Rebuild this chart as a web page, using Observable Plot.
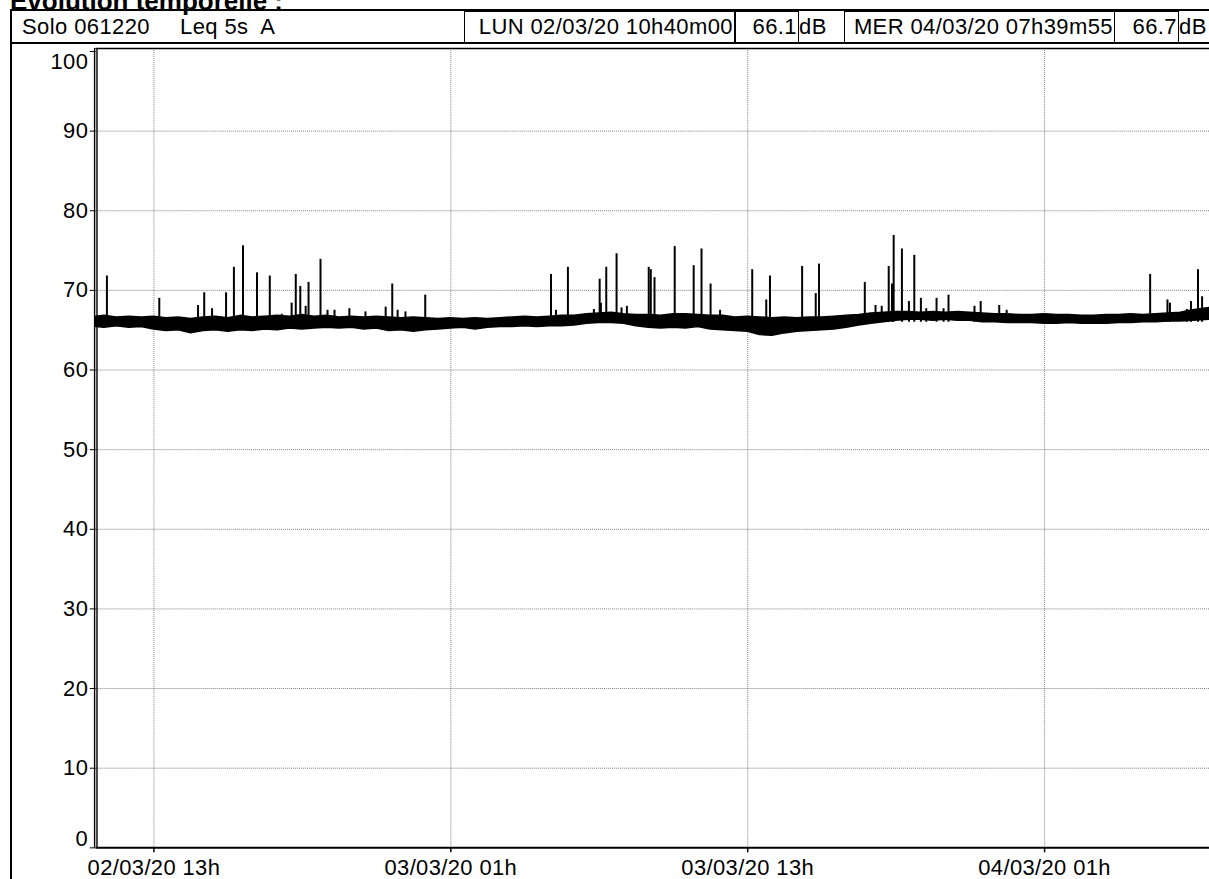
<!DOCTYPE html>
<html>
<head>
<meta charset="utf-8">
<script src="https://cdn.jsdelivr.net/npm/d3@7"></script>
<script src="https://cdn.jsdelivr.net/npm/@observablehq/plot@0.6"></script>
<style>
html,body{margin:0;padding:0;background:#fff;}
body{width:1209px;height:879px;overflow:hidden;position:relative;font-family:"Liberation Sans",Arial,sans-serif;color:#000;}
.abs{position:absolute;box-sizing:border-box;white-space:pre;}
#title{left:10px;top:-12px;font-weight:bold;font-size:26px;line-height:26px;}
#frameL{left:10px;top:9px;width:2px;height:900px;background:#000;}
#frameT{left:10px;top:9px;width:1300px;height:2px;background:#000;}
#frameB{left:10px;top:42px;width:1300px;height:2px;background:#000;}
.txt{top:11px;height:31px;font-size:22px;line-height:31px;letter-spacing:0.4px;}
.box{top:11px;height:32px;border:1.5px solid #000;font-size:22px;line-height:29px;letter-spacing:0.4px;text-align:right;padding-right:1px;}
#chart{left:0;top:44px;}
#chart svg text{letter-spacing:0.4px;}
</style>
</head>
<body>
<div id="title" class="abs"></div>
<div id="frameL" class="abs"></div>
<div id="frameT" class="abs"></div>
<div id="frameB" class="abs"></div>
<div id="hdr"></div>
<div id="chart" class="abs"></div>
<script>
// ---- header texts ----
const titleText = "Evolution temporelle :";
const sourceLabel = "Solo 061220";
const indexLabel = "Leq 5s  A";
const startLabel = "LUN 02/03/20 10h40m00";
const startValue = "66.1";
const endLabel = "MER 04/03/20 07h39m55";
const endValue = "66.7";
const unitLabel = "dB";

// ---- axes ----
const xStart = "2020-03-02T10:40:00";
const xEnd = "2020-03-04T07:39:55";
const xTicks = ["2020-03-02T13:00", "2020-03-03T01:00", "2020-03-03T13:00", "2020-03-04T01:00"];
const yTicks = [0, 10, 20, 30, 40, 50, 60, 70, 80, 90, 100];

// ---- background level band (Leq 5s, low / high envelope) ----
const bandTime = [
  "2020-03-02T10:40","2020-03-02T11:00","2020-03-02T11:30","2020-03-02T12:00","2020-03-02T12:30","2020-03-02T13:00","2020-03-02T13:30",
  "2020-03-02T14:00","2020-03-02T14:30","2020-03-02T15:00","2020-03-02T15:30","2020-03-02T16:00","2020-03-02T16:30","2020-03-02T17:00",
  "2020-03-02T17:30","2020-03-02T18:00","2020-03-02T18:30","2020-03-02T19:00","2020-03-02T19:30","2020-03-02T20:00","2020-03-02T20:30",
  "2020-03-02T21:00","2020-03-02T21:30","2020-03-02T22:00","2020-03-02T22:30","2020-03-02T23:00","2020-03-02T23:30",
  "2020-03-03T00:00","2020-03-03T00:30","2020-03-03T01:00","2020-03-03T01:30","2020-03-03T02:00","2020-03-03T02:30","2020-03-03T03:00","2020-03-03T03:30",
  "2020-03-03T04:00","2020-03-03T04:30","2020-03-03T05:00","2020-03-03T05:30","2020-03-03T06:00","2020-03-03T06:30","2020-03-03T07:00","2020-03-03T07:30",
  "2020-03-03T08:00","2020-03-03T08:30","2020-03-03T09:00","2020-03-03T09:30","2020-03-03T10:00","2020-03-03T10:30","2020-03-03T11:00","2020-03-03T11:30",
  "2020-03-03T12:00","2020-03-03T12:30","2020-03-03T13:00","2020-03-03T13:30","2020-03-03T14:00","2020-03-03T14:30","2020-03-03T15:00","2020-03-03T15:30",
  "2020-03-03T16:00","2020-03-03T16:30","2020-03-03T17:00","2020-03-03T17:30","2020-03-03T18:00","2020-03-03T18:30","2020-03-03T19:00","2020-03-03T19:30",
  "2020-03-03T20:00","2020-03-03T20:30","2020-03-03T21:00","2020-03-03T21:30","2020-03-03T22:00","2020-03-03T22:30","2020-03-03T23:00","2020-03-03T23:30",
  "2020-03-04T00:00","2020-03-04T00:30","2020-03-04T01:00","2020-03-04T01:30","2020-03-04T02:00","2020-03-04T02:30","2020-03-04T03:00","2020-03-04T03:30",
  "2020-03-04T04:00","2020-03-04T04:30","2020-03-04T05:00","2020-03-04T05:30","2020-03-04T06:00","2020-03-04T06:30","2020-03-04T07:00","2020-03-04T07:39:55"
];
const bandLow = [
  65.4,65.3,65.5,65.3,65.4,65.1,64.9, 65.0,64.6,64.9,65.0,64.8,65.0,64.9, 65.1,65.0,65.2,65.1,65.2,65.3,65.2, 65.3,65.1,65.2,64.9,65.0,64.8,
  65.0,65.1,65.2,65.3,65.1,65.3,65.4,65.4, 65.5,65.4,65.5,65.5,65.6,65.8,65.9,65.9, 65.8,65.5,65.3,65.2,65.3,65.2,65.4,65.1,
  65.0,64.9,64.8,64.4,64.3,64.6,64.8,64.9, 65.0,65.1,65.3,65.6,65.8,66.0,66.2,66.3, 66.3,66.2,66.3,66.2,66.2,66.0,66.0,65.9,
  65.9,65.9,65.8,65.8,65.9,65.8,65.8,65.8, 65.9,65.9,66.0,66.0,66.1,66.1,66.2,66.3
];
const bandHigh = [
  66.7,66.8,66.6,66.7,66.6,66.7,66.5, 66.6,66.4,66.6,66.7,66.5,66.8,66.6, 66.7,66.8,66.7,66.9,66.7,66.8,66.6, 66.7,66.6,66.7,66.6,66.5,66.6,
  66.5,66.4,66.5,66.4,66.5,66.4,66.5,66.6, 66.7,66.6,66.7,66.8,66.8,67.0,67.1,67.2, 67.0,66.9,66.9,66.8,67.0,67.0,66.9,66.8,
  66.8,66.6,66.7,66.6,66.5,66.6,66.5,66.6, 66.6,66.7,66.8,66.9,67.1,67.2,67.3,67.3, 67.2,67.3,67.2,67.3,67.2,67.1,67.0,67.0,
  66.9,66.9,67.0,66.9,66.9,66.8,66.8,66.9, 66.9,67.0,66.9,67.0,67.1,67.2,67.5,67.8
];

// ---- short events (peaks) ----
const spikeTime = [
  "2020-03-02T11:06","2020-03-02T13:13","2020-03-02T14:47","2020-03-02T15:02","2020-03-02T15:21","2020-03-02T15:55","2020-03-02T16:14",
  "2020-03-02T16:36","2020-03-02T17:10","2020-03-02T17:41","2020-03-02T18:10","2020-03-02T18:34","2020-03-02T18:44","2020-03-02T18:55",
  "2020-03-02T19:08","2020-03-02T19:15","2020-03-02T19:44","2020-03-02T20:01","2020-03-02T20:18","2020-03-02T20:54","2020-03-02T21:33",
  "2020-03-02T22:22","2020-03-02T22:38","2020-03-02T22:51","2020-03-02T23:10","2020-03-02T23:58",
  "2020-03-03T05:03","2020-03-03T05:15","2020-03-03T05:44","2020-03-03T06:47","2020-03-03T07:01","2020-03-03T07:04","2020-03-03T07:17",
  "2020-03-03T07:42","2020-03-03T07:54","2020-03-03T08:07","2020-03-03T09:00","2020-03-03T09:05","2020-03-03T09:14","2020-03-03T10:03",
  "2020-03-03T10:49","2020-03-03T11:08","2020-03-03T11:30","2020-03-03T11:53","2020-03-03T13:11","2020-03-03T13:45","2020-03-03T13:54",
  "2020-03-03T15:12","2020-03-03T15:45","2020-03-03T15:53","2020-03-03T17:44","2020-03-03T18:10","2020-03-03T18:25","2020-03-03T18:42",
  "2020-03-03T18:50","2020-03-03T18:54","2020-03-03T19:14","2020-03-03T19:31","2020-03-03T19:44","2020-03-03T20:00","2020-03-03T20:13",
  "2020-03-03T20:38","2020-03-03T20:55","2020-03-03T21:07","2020-03-03T22:10","2020-03-03T22:25","2020-03-03T23:10","2020-03-03T23:28",
  "2020-03-04T05:16","2020-03-04T05:58","2020-03-04T06:04","2020-03-04T06:45","2020-03-04T06:55","2020-03-04T07:12","2020-03-04T07:22"
];
const spikePeak = [
  71.8,69.0,68.1,69.7,67.7,69.7,72.9,
  75.6,72.2,71.8,67.0,68.4,72.0,70.5,
  68.0,71.0,73.9,67.5,67.5,67.7,67.3,
  67.9,70.8,67.5,67.3,69.4,
  72.0,67.5,72.9,67.6,71.4,68.4,72.9,
  74.6,67.8,68.0,72.9,72.6,71.6,75.5,
  73.1,75.2,70.8,67.5,72.6,68.8,71.8,
  73.0,69.6,73.3,71.0,68.1,68.0,73.0,
  70.8,76.9,75.2,68.6,74.4,69.0,67.7,
  69.0,67.7,69.4,68.0,68.6,68.1,67.5,
  72.0,68.8,68.4,67.6,68.6,72.6,69.2
];
const spikeBase = 66;

// ---- header (HTML) ----
const hdr = document.getElementById("hdr");
document.getElementById("title").textContent = titleText;
function addDiv(cls, left, width, text) {
  const d = document.createElement("div");
  d.className = "abs " + cls;
  d.style.left = left + "px";
  if (width != null) d.style.width = width + "px";
  d.textContent = text;
  hdr.appendChild(d);
}
addDiv("txt", 22, null, sourceLabel);
addDiv("txt", 180, null, indexLabel);
addDiv("box", 464, 271, startLabel);
addDiv("box", 734.5, 64.5, startValue);
addDiv("txt", 799, null, unitLabel);
addDiv("box", 844, 271, endLabel);
addDiv("box", 1114, 65, endValue);
addDiv("txt", 1179, null, unitLabel);

// ---- chart ----
const parse = s => new Date(s);
const band = bandTime.map((t, i) => ({t: parse(t), lo: bandLow[i], hi: bandHigh[i]}));
const spikes = spikeTime.map((t, i) => ({t: parse(t), peak: spikePeak[i]}));
const xTickDates = xTicks.map(parse);
const x0 = parse(xStart), x1 = parse(xEnd);
const yGrid = yTicks.filter(v => v > 0 && v < 100);
const fmt = d3.timeFormat("%d/%m/%y %Hh");
const gridStyle = {stroke: "#808080", strokeWidth: 1, strokeDasharray: "1,1"};

const chart = Plot.plot({
  width: 1213,
  height: 835,
  marginLeft: 96,
  marginRight: 0,
  marginTop: 4,
  marginBottom: 29,
  insetTop: 3,
  style: {fontFamily: "'Liberation Sans', Arial, sans-serif", fontSize: "22px", color: "#000", background: "transparent"},
  x: {type: "time", domain: [x0, x1], label: null},
  y: {domain: [0, 100], label: null},
  marks: [
    Plot.ruleY(yGrid, gridStyle),
    Plot.ruleX(xTickDates, gridStyle),
    Plot.areaY(band, {x: "t", y1: "lo", y2: "hi", fill: "#000", stroke: "#000", strokeWidth: 1.5}),
    Plot.ruleX(spikes, {x: "t", y1: spikeBase, y2: "peak", stroke: "#000", strokeWidth: 2}),
    Plot.frame({anchor: "top", stroke: "#000", strokeWidth: 1.5}),
    Plot.ruleY([0], {stroke: "#000", strokeWidth: 2}),
    Plot.ruleX([x0], {stroke: "#000", strokeWidth: 1.4, dx: -1.6}),
    Plot.ruleX([x0], {stroke: "#000", strokeWidth: 1.4, dx: 0.8}),
    Plot.axisX({ticks: xTickDates, tickSize: 5, tickPadding: 7, tickFormat: fmt, fontSize: 22, stroke: "#000", strokeWidth: 1.5, label: null}),
    Plot.axisY({ticks: yTicks, tickSize: 6, tickPadding: 0, tickFormat: () => "", stroke: "#000", label: null}),
    Plot.text(yGrid, {y: d => d, text: d => String(d), frameAnchor: "left", textAnchor: "end", dx: -8, fontSize: 22, fill: "#000"}),
    Plot.text([0], {y: d => d, text: d => String(d), frameAnchor: "left", textAnchor: "end", dx: -8, dy: -9, fontSize: 22, fill: "#000"}),
    Plot.text([100], {y: d => d, text: d => String(d), frameAnchor: "left", textAnchor: "end", dx: -8, dy: 11, fontSize: 22, fill: "#000"})
  ]
});
document.getElementById("chart").appendChild(chart);
</script>
</body>
</html>
